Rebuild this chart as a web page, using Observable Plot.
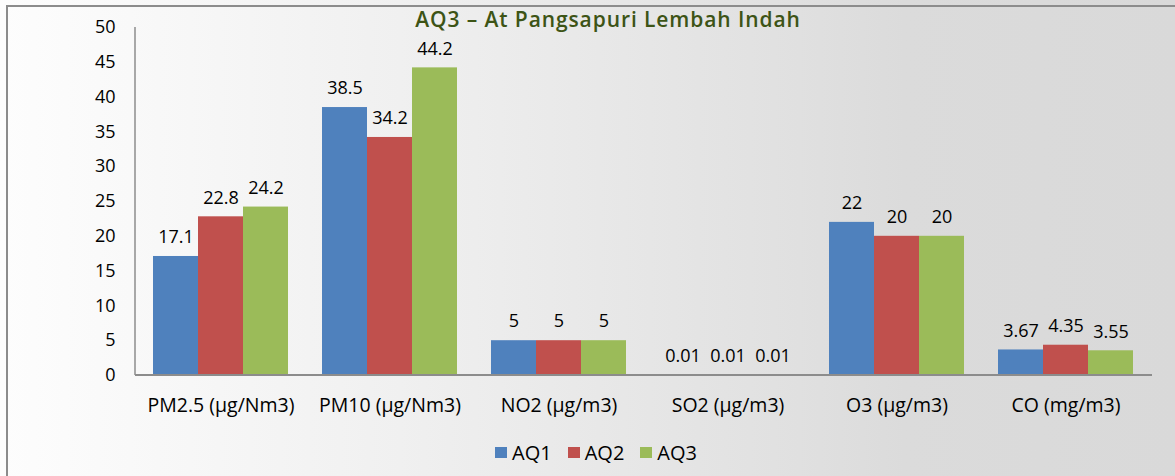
<!DOCTYPE html>
<html><head><meta charset="utf-8">
<script src="https://cdn.jsdelivr.net/npm/d3@7"></script>
<script src="https://cdn.jsdelivr.net/npm/@observablehq/plot@0.6"></script>
<style>
html,body{margin:0;padding:0;background:#fff;}
#wrap{position:relative;width:1175px;height:476px;overflow:hidden;
 background:linear-gradient(to right,#fdfdfd 0%,#f9f9f9 11%,#f0f0f0 34%,#e0e0e0 68%,#dbdbdb 77%,#d9d9d9 100%);
 font-family:"Open Sans",sans-serif;}
#frame{position:absolute;left:6px;top:5px;right:-5px;bottom:-5px;border-top:2px solid #8c8c8c;border-left:2px solid #8c8c8c;}
#title{position:absolute;left:0;width:1216px;top:5px;text-align:center;font-size:21px;font-weight:600;letter-spacing:0.9px;color:#3d5416;white-space:nowrap;}
#chart{position:absolute;left:0;top:0;}
#legend{position:absolute;left:0;width:1192px;top:439px;display:flex;justify-content:center;gap:16px;font-size:20px;color:#000;}
#legend .it{display:flex;align-items:center;gap:5px;}
#legend .sw{width:12px;height:11px;display:inline-block;}
</style></head>
<body>
<div id="wrap">
  <div id="frame"></div>
  <div id="chart"></div>
  <div id="title">AQ3 – At Pangsapuri Lembah Indah</div>
  <div id="legend"></div>
</div>
<script>
const categories = ["PM2.5 (µg/Nm3)", "PM10 (µg/Nm3)", "NO2 (µg/m3)", "SO2 (µg/m3)", "O3 (µg/m3)", "CO (mg/m3)"];
const seriesNames = ["AQ1", "AQ2", "AQ3"];
const aq1 = [17.1, 38.5, 5, 0.01, 22, 3.67];
const aq2 = [22.8, 34.2, 5, 0.01, 20, 4.35];
const aq3 = [24.2, 44.2, 5, 0.01, 20, 3.55];
const colors = ["#4f81bd", "#c0504d", "#9bbb59"];
const yTicks = [0, 5, 10, 15, 20, 25, 30, 35, 40, 45, 50];

const seriesValues = [aq1, aq2, aq3];
const data = [];
categories.forEach((c, i) => seriesNames.forEach((s, j) => data.push({cat: c, series: s, value: seriesValues[j][i]})));

const chart = Plot.plot({
  width: 1175, height: 420,
  marginLeft: 135, marginRight: 23, marginTop: 27, marginBottom: 45,
  style: {background: "transparent", fontFamily: "Open Sans", fontSize: "19px", color: "#000", overflow: "visible"},
  fx: {domain: categories, paddingInner: 0.2, paddingOuter: 0.1, label: null, axis: null},
  x: {domain: seriesNames, axis: null, padding: 0},
  y: {domain: [0, 50], axis: null, label: null},
  color: {domain: seriesNames, range: colors},
  marks: [
    Plot.axisY(yTicks, {tickSize: 0, tickPadding: 38, fontSize: 18, label: null}),
    Plot.axisFx({anchor: "bottom", tickSize: 0, dy: 14, fontSize: 19.5, label: null}),
    Plot.barY(data, {fx: "cat", x: "series", y: "value", fill: "series"}),
    Plot.text(data, {fx: "cat", x: "series", y: "value", text: d => String(d.value), dy: -19, fontSize: 18})
  ]
});
const ys = chart.scale("y");
const svg = d3.select(chart);
svg.append("line").attr("x1", 135).attr("x2", 1175 - 23)
  .attr("y1", ys.apply(0)).attr("y2", ys.apply(0)).attr("stroke", "#8c8c8c").attr("stroke-width", 2);
svg.append("line").attr("x1", 135).attr("x2", 135)
  .attr("y1", ys.apply(50)).attr("y2", ys.apply(0)).attr("stroke", "#8c8c8c").attr("stroke-width", 1.5);
document.getElementById("chart").appendChild(chart);

const lg = document.getElementById("legend");
seriesNames.forEach((s, i) => {
  const it = document.createElement("div"); it.className = "it";
  const sw = document.createElement("span"); sw.className = "sw"; sw.style.background = colors[i];
  const t = document.createElement("span"); t.textContent = s;
  it.appendChild(sw); it.appendChild(t); lg.appendChild(it);
});
</script>
</body></html>
